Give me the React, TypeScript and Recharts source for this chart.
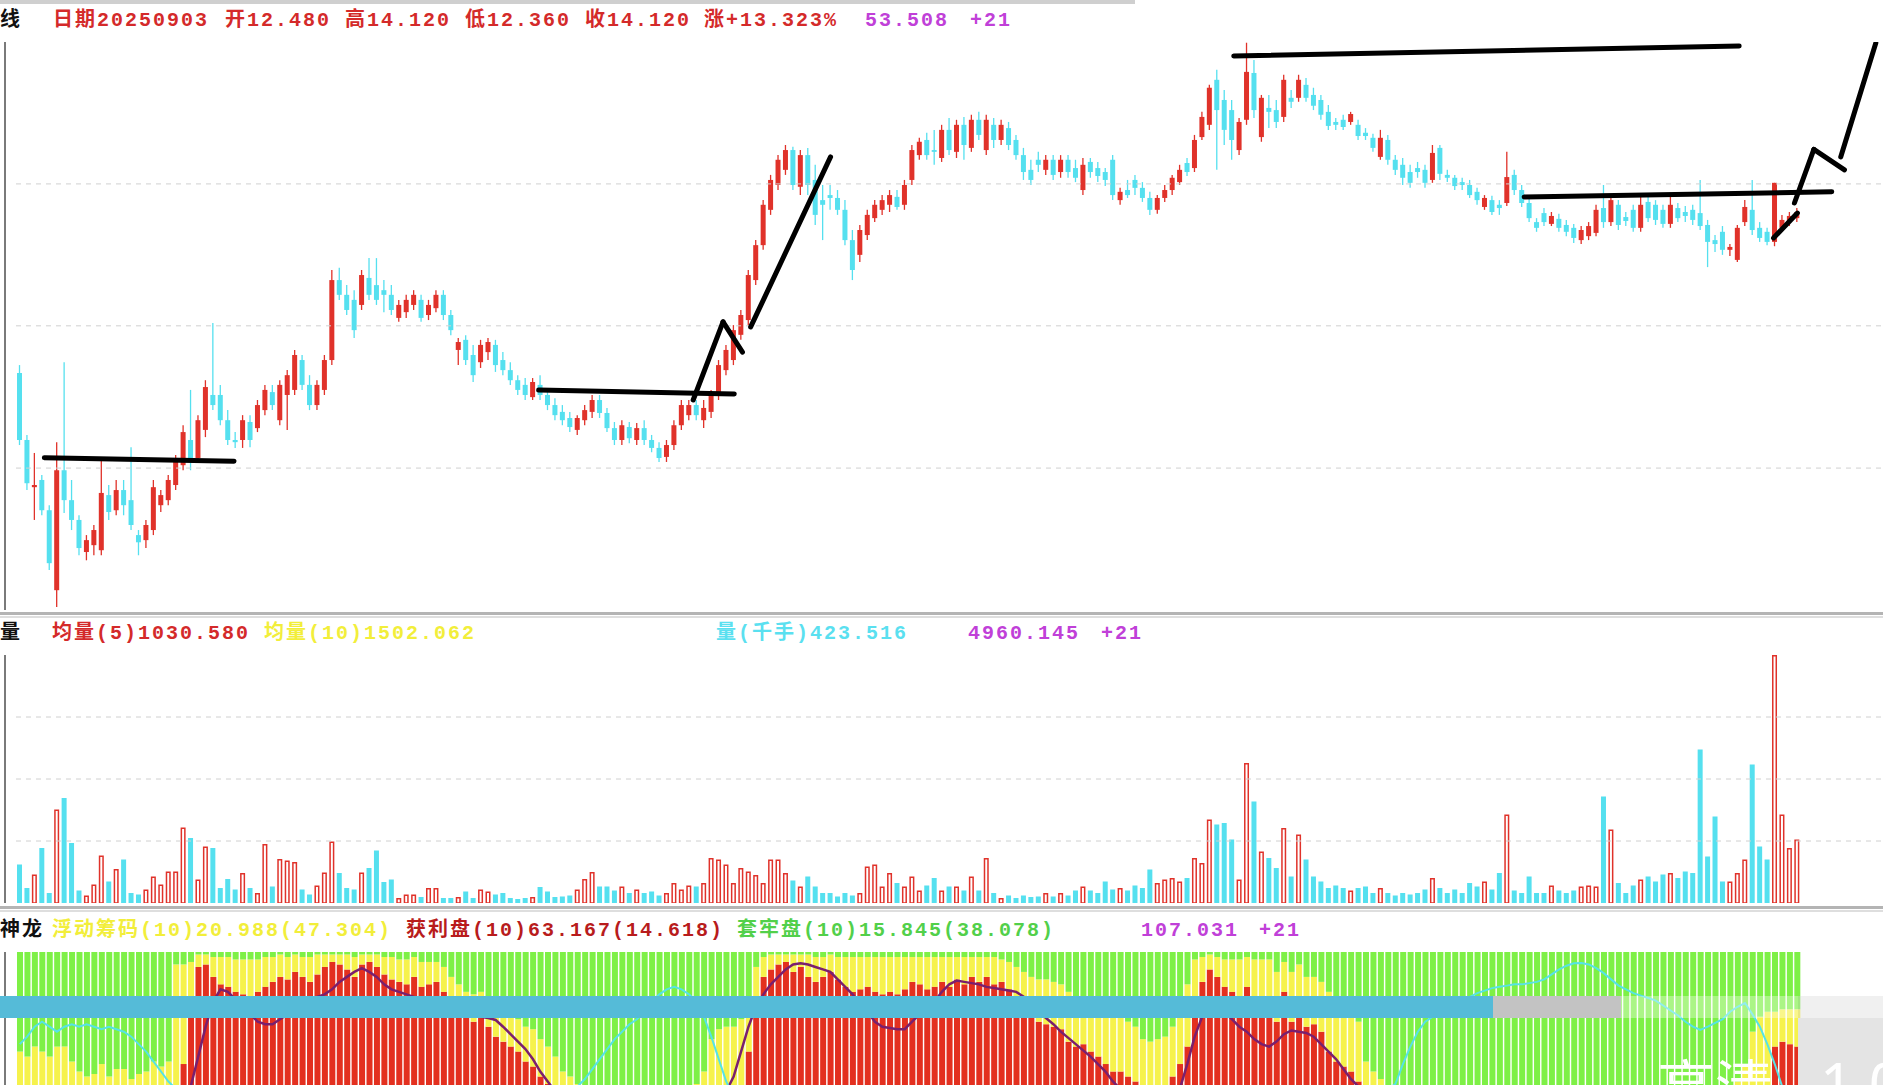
import React from 'react'
import { ComposedChart, Bar, Line, XAxis, YAxis, ReferenceLine } from 'recharts'

// 日K: [开, 高, 低, 收]
const ohlc: [number, number, number, number][] = [
	[8.84, 9.06, 6.84, 6.98], [6.98, 7.12, 5.59, 5.78], [5.67, 6.62, 4.76, 5.73], [5.87, 6.01, 4.89, 5.03], [5.03, 5.17, 3.37, 3.56],
	[2.81, 6.92, 2.34, 6.14], [6.14, 9.14, 4.95, 5.31], [5.31, 5.87, 4.48, 4.76], [4.76, 4.89, 3.78, 3.98], [3.87, 4.34, 3.64, 4.2],
	[4.06, 4.62, 3.78, 4.48], [3.92, 6.51, 3.78, 5.51], [5.45, 5.73, 4.76, 4.98], [5.03, 5.87, 4.89, 5.59], [5.59, 5.87, 4.89, 5.17],
	[5.31, 6.78, 4.48, 4.62], [4.34, 4.48, 3.78, 4.14], [4.2, 4.76, 3.98, 4.62], [4.48, 5.87, 4.34, 5.67], [5.17, 5.59, 4.98, 5.45],
	[5.31, 6.01, 5.17, 5.87], [5.73, 6.56, 5.59, 6.42], [6.28, 7.39, 6.14, 7.2], [6.98, 8.37, 6.14, 6.37], [6.48, 7.67, 6.37, 7.53],
	[7.26, 8.64, 7.06, 8.45], [8.23, 10.23, 7.81, 7.95], [8.23, 8.51, 7.39, 7.53], [7.53, 7.81, 6.84, 6.98], [6.98, 7.2, 6.76, 6.92],
	[6.98, 7.67, 6.76, 7.53], [7.48, 7.67, 6.78, 6.98], [7.31, 8.09, 7.2, 7.95], [7.81, 8.51, 7.67, 8.37], [8.31, 8.51, 7.81, 7.95],
	[7.53, 8.64, 7.39, 8.51], [8.23, 8.92, 7.26, 8.78], [8.37, 9.48, 8.23, 9.34], [9.2, 9.34, 8.37, 8.51], [8.51, 8.78, 7.81, 7.95],
	[7.95, 8.64, 7.81, 8.51], [8.37, 9.34, 8.23, 9.2], [9.2, 11.7, 9.06, 11.42], [11.42, 11.76, 10.87, 11.01], [11.01, 11.28, 10.45, 10.59],
	[10.87, 11.14, 9.81, 10.03], [10.73, 11.7, 10.59, 11.56], [11.48, 12.03, 10.87, 11.01], [11.28, 12.03, 10.73, 10.87], [11.14, 11.42, 10.53, 11.01],
	[11.01, 11.28, 10.45, 10.59], [10.37, 10.87, 10.26, 10.73], [10.53, 11.01, 10.37, 10.87], [10.73, 11.14, 10.59, 11.01], [10.87, 11.01, 10.26, 10.37],
	[10.45, 10.87, 10.31, 10.73], [10.64, 11.14, 10.53, 11.01], [11.01, 11.14, 10.31, 10.45], [10.45, 10.59, 9.89, 10.03], [9.48, 9.81, 9.06, 9.7],
	[9.76, 9.89, 9.06, 9.2], [9.34, 9.62, 8.59, 8.78], [9.14, 9.76, 8.98, 9.62], [9.42, 9.81, 9.2, 9.7], [9.62, 9.76, 8.87, 9.06],
	[9.2, 9.42, 8.78, 8.92], [8.92, 9.14, 8.51, 8.64], [8.64, 8.78, 8.23, 8.37], [8.51, 8.7, 8.09, 8.23], [8.17, 8.7, 8.09, 8.59],
	[8.51, 8.78, 8.09, 8.23], [8.23, 8.37, 7.81, 7.95], [7.95, 8.14, 7.53, 7.67], [7.76, 7.95, 7.39, 7.53], [7.59, 7.76, 7.2, 7.34],
	[7.26, 7.67, 7.12, 7.59], [7.53, 7.95, 7.39, 7.81], [7.76, 8.23, 7.59, 8.09], [8.09, 8.23, 7.59, 7.73], [7.73, 7.87, 7.2, 7.31],
	[7.31, 7.48, 6.84, 6.98], [6.98, 7.53, 6.84, 7.39], [7.34, 7.48, 6.89, 7.03], [6.98, 7.45, 6.84, 7.31], [7.31, 7.53, 6.84, 6.98],
	[6.98, 7.12, 6.64, 6.76], [6.76, 6.92, 6.37, 6.48], [6.51, 6.98, 6.37, 6.84], [6.84, 7.53, 6.7, 7.39], [7.39, 8.09, 7.26, 7.95],
	[7.67, 8.09, 7.53, 7.95], [7.95, 8.09, 7.53, 7.67], [7.53, 8.09, 7.31, 7.87], [7.76, 8.37, 7.59, 8.23], [8.23, 9.2, 8.09, 9.06],
	[8.92, 9.62, 8.78, 9.48], [9.2, 10.17, 9.06, 10.03], [9.9, 10.59, 9.76, 10.45], [10.31, 11.7, 10.17, 11.56], [11.42, 12.53, 11.28, 12.39],
	[12.39, 13.64, 12.26, 13.51], [13.37, 14.34, 13.23, 14.2], [14.06, 14.89, 13.92, 14.76], [14.48, 15.17, 14.34, 15.03], [15.03, 15.12, 13.92, 14.06],
	[14.01, 15.03, 13.78, 14.89], [14.89, 15.09, 13.78, 14.06], [14.2, 14.62, 12.95, 13.23], [13.64, 14.06, 12.53, 13.51], [13.78, 14.06, 13.37, 13.7],
	[13.7, 13.92, 13.23, 13.37], [13.37, 13.64, 12.39, 12.53], [12.53, 12.81, 11.42, 11.7], [12.12, 12.95, 11.92, 12.81], [12.67, 13.37, 12.53, 13.23],
	[13.14, 13.64, 13.03, 13.51], [13.37, 13.78, 13.23, 13.64], [13.51, 13.92, 13.31, 13.78], [13.73, 13.92, 13.37, 13.45], [13.51, 14.2, 13.37, 14.06],
	[14.2, 15.17, 14.06, 15.03], [14.89, 15.37, 14.76, 15.26], [15.31, 15.51, 14.76, 14.89], [15.03, 15.59, 14.62, 14.98], [14.81, 15.73, 14.7, 15.59],
	[15.59, 15.92, 14.89, 15.03], [14.98, 15.87, 14.81, 15.73], [15.73, 15.95, 14.76, 15.17], [15.09, 16.01, 14.98, 15.87], [15.87, 16.09, 15.31, 15.45],
	[15.03, 16.01, 14.89, 15.87], [15.73, 15.92, 15.09, 15.31], [15.31, 15.87, 15.17, 15.73], [15.64, 15.81, 15.03, 15.17], [15.31, 15.45, 14.76, 14.89],
	[14.89, 15.09, 14.2, 14.42], [14.48, 14.76, 14.06, 14.2], [14.76, 14.98, 14.42, 14.62], [14.48, 14.89, 14.34, 14.76], [14.76, 14.89, 14.2, 14.34],
	[14.42, 14.89, 14.26, 14.76], [14.76, 14.89, 14.26, 14.42], [14.53, 14.76, 14.14, 14.26], [13.92, 14.81, 13.78, 14.62], [14.7, 14.81, 14.26, 14.42],
	[14.53, 14.7, 14.14, 14.31], [14.42, 14.53, 14.03, 14.2], [14.76, 14.89, 13.64, 13.78], [13.64, 13.98, 13.51, 13.87], [13.92, 14.2, 13.7, 13.78],
	[14.2, 14.34, 13.78, 13.98], [13.98, 14.14, 13.59, 13.7], [13.7, 13.87, 13.23, 13.37], [13.37, 13.78, 13.26, 13.7], [13.7, 14.06, 13.59, 13.92],
	[13.92, 14.34, 13.78, 14.26], [14.14, 14.62, 14.06, 14.48], [14.67, 14.81, 14.31, 14.42], [14.53, 15.45, 14.42, 15.31], [15.39, 16.09, 15.31, 15.95],
	[15.73, 16.84, 15.59, 16.76], [16.98, 17.26, 14.48, 16.14], [16.42, 16.7, 15.17, 15.59], [16.14, 16.42, 14.76, 15.31], [15.03, 15.92, 14.89, 15.81],
	[15.87, 18.01, 15.73, 17.2], [17.17, 17.53, 15.92, 16.14], [15.39, 16.56, 15.26, 16.48], [16.2, 16.56, 15.64, 16.09], [16.14, 16.42, 15.64, 15.81],
	[15.95, 17.12, 15.81, 16.98], [16.48, 16.7, 16.2, 16.37], [16.48, 17.12, 16.37, 16.98], [16.84, 17.03, 16.37, 16.48], [16.56, 16.76, 16.14, 16.26],
	[16.42, 16.56, 15.87, 16.01], [16.09, 16.28, 15.59, 15.7], [15.81, 15.92, 15.59, 15.73], [15.87, 16.01, 15.59, 15.67], [15.81, 16.09, 15.73, 16.03],
	[15.73, 15.87, 15.31, 15.42], [15.51, 15.64, 15.31, 15.42], [15.37, 15.48, 14.98, 15.09], [14.84, 15.59, 14.76, 15.37], [15.31, 15.45, 14.62, 14.76],
	[14.76, 14.89, 14.34, 14.48], [14.62, 14.81, 14.06, 14.26], [14.42, 14.62, 13.98, 14.12], [14.53, 14.7, 14.26, 14.42], [14.48, 14.62, 13.98, 14.12],
	[14.2, 15.17, 14.12, 14.95], [15.09, 15.17, 14.2, 14.37], [14.34, 14.48, 14.14, 14.26], [14.26, 14.34, 13.92, 14.03], [14.14, 14.26, 13.92, 14.06],
	[14.06, 14.2, 13.7, 13.78], [13.87, 13.98, 13.51, 13.64], [13.45, 13.78, 13.37, 13.7], [13.64, 13.76, 13.23, 13.31], [13.51, 13.64, 13.23, 13.42],
	[13.56, 14.98, 13.48, 14.28], [14.34, 14.48, 13.78, 13.92], [13.92, 14.06, 13.45, 13.56], [13.56, 13.7, 13.03, 13.14], [13.03, 13.14, 12.76, 12.87],
	[13.28, 13.42, 12.92, 13.03], [12.98, 13.31, 12.92, 13.2], [13.12, 13.26, 12.76, 12.87], [12.95, 13.09, 12.64, 12.76], [12.87, 12.98, 12.45, 12.59],
	[12.53, 12.92, 12.42, 12.81], [12.64, 13.03, 12.53, 12.92], [12.73, 13.51, 12.64, 13.37], [13.42, 14.06, 12.87, 13.03], [13.03, 13.78, 12.92, 13.64],
	[13.51, 13.64, 12.81, 12.95], [13.17, 13.31, 12.92, 13.06], [13.37, 13.51, 12.76, 12.87], [12.87, 13.78, 12.76, 13.51], [13.59, 13.78, 13.03, 13.14],
	[13.51, 13.64, 12.95, 13.09], [13.37, 13.51, 12.87, 12.98], [12.98, 13.78, 12.87, 13.51], [13.42, 13.56, 13.03, 13.14], [13.31, 13.48, 13.03, 13.2],
	[13.37, 13.51, 12.95, 13.09], [13.28, 14.2, 12.81, 12.92], [12.95, 13.09, 11.78, 12.48], [12.53, 12.67, 12.2, 12.42], [12.76, 12.92, 12.12, 12.26],
	[12.26, 12.42, 12.09, 12.34], [11.98, 12.95, 11.92, 12.87], [13.03, 13.64, 12.92, 13.45], [13.37, 14.2, 12.67, 12.81], [12.87, 13.03, 12.48, 12.59],
	[12.76, 12.87, 12.39, 12.48], [12.48, 14.12, 12.36, 14.12], [12.87, 13.23, 12.76, 13.09], [13.03, 13.31, 12.92, 13.2], [13.14, 13.42, 13.03, 13.31],
]

// 成交量(千手)
const volume: number[] = [
	770, 300, 570, 1100, 200, 1870, 2100, 1200, 250, 150,
	370, 950, 430, 680, 870, 200, 170, 270, 530, 370,
	630, 630, 1510, 1300, 470, 1130, 1100, 300, 480, 270,
	600, 300, 200, 1180, 330, 880, 850, 820, 270, 170,
	350, 610, 1230, 600, 300, 270, 610, 700, 1050, 420,
	470, 100, 170, 170, 120, 300, 300, 100, 100, 120,
	230, 100, 270, 230, 170, 200, 100, 80, 100, 120,
	320, 230, 120, 130, 150, 270, 480, 620, 330, 330,
	250, 330, 200, 270, 200, 230, 150, 200, 400, 270,
	350, 330, 400, 900, 870, 770, 400, 700, 630, 560,
	400, 870, 870, 600, 450, 330, 530, 330, 200, 200,
	130, 200, 150, 200, 730, 770, 330, 600, 400, 330,
	530, 250, 350, 500, 250, 330, 330, 250, 530, 250,
	900, 200, 100, 150, 100, 150, 120, 130, 200, 130,
	200, 150, 250, 330, 250, 200, 430, 270, 300, 250,
	350, 300, 670, 400, 470, 500, 430, 500, 900, 800,
	1670, 1570, 1600, 1270, 470, 2800, 2030, 1030, 900, 700,
	1500, 530, 1370, 870, 530, 430, 300, 350, 300, 250,
	300, 330, 200, 300, 200, 150, 200, 170, 200, 270,
	500, 300, 200, 270, 200, 400, 330, 430, 270, 600,
	1770, 250, 200, 530, 200, 200, 350, 250, 200, 250,
	330, 350, 330, 2130, 1470, 400, 200, 350, 470, 530,
	430, 570, 600, 500, 630, 600, 3070, 930, 1730, 430,
	430, 600, 870, 2770, 1130, 870, 4960, 1770, 1100, 1270,
]

// 神龙筹码: [获利盘, 浮动筹码, 套牢盘]
const chips: [number, number, number][] = [
	[36, 24, 40], [38, 20, 42], [37, 25, 38], [38, 22, 40], [40, 18, 42], [42, 20, 38], [40, 22, 38], [40, 16, 44], [40, 12, 48], [41, 9, 50],
	[40, 11, 49], [42, 13, 45], [41, 9, 50], [42, 11, 47], [41, 12, 47], [40, 9, 51], [40, 11, 49], [42, 10, 48], [43, 13, 44], [43, 11, 46],
	[44, 12, 44], [40, 55, 5], [55, 40, 5], [75, 21, 4], [94, 5, 1], [95, 4, 1], [90, 8, 2], [87, 11, 2], [86, 12, 2], [84, 13, 3],
	[83, 14, 3], [82, 15, 3], [84, 13, 3], [86, 12, 2], [88, 10, 2], [90, 9, 1], [89, 9, 2], [92, 7, 1], [90, 8, 2], [88, 10, 2],
	[91, 8, 1], [94, 5, 1], [96, 3, 1], [95, 4, 1], [93, 6, 1], [90, 8, 2], [95, 4, 1], [96, 3, 1], [94, 5, 1], [91, 7, 2],
	[89, 9, 2], [88, 9, 3], [87, 10, 3], [90, 8, 2], [86, 10, 4], [87, 9, 4], [88, 8, 4], [84, 10, 6], [80, 10, 10], [76, 11, 13],
	[74, 10, 16], [72, 11, 17], [74, 10, 16], [70, 12, 18], [66, 12, 22], [64, 13, 23], [62, 12, 26], [60, 13, 27], [56, 14, 30], [54, 15, 31],
	[50, 15, 35], [47, 15, 38], [44, 14, 42], [40, 12, 48], [38, 12, 50], [36, 11, 53], [35, 10, 55], [34, 10, 56], [33, 10, 57], [32, 9, 59],
	[32, 9, 59], [31, 9, 60], [31, 9, 60], [30, 9, 61], [30, 9, 61], [30, 10, 60], [30, 10, 60], [30, 10, 60], [31, 10, 59], [31, 11, 58],
	[32, 12, 56], [33, 14, 53], [34, 18, 48], [35, 30, 35], [36, 33, 31], [38, 32, 30], [40, 30, 30], [45, 28, 27], [60, 22, 18], [80, 14, 6],
	[90, 8, 2], [93, 6, 1], [95, 4, 1], [96, 3, 1], [92, 7, 1], [94, 5, 1], [90, 9, 1], [88, 10, 2], [90, 8, 2], [92, 7, 1],
	[89, 9, 2], [86, 12, 2], [84, 14, 2], [85, 13, 2], [86, 12, 2], [84, 14, 2], [83, 15, 2], [84, 14, 2], [83, 15, 2], [85, 13, 2],
	[88, 10, 2], [87, 11, 2], [85, 13, 2], [86, 12, 2], [88, 10, 2], [86, 12, 2], [89, 9, 2], [87, 11, 2], [90, 8, 2], [88, 10, 2],
	[90, 8, 2], [87, 11, 2], [88, 9, 3], [85, 11, 4], [82, 12, 6], [78, 14, 8], [74, 16, 10], [72, 17, 11], [71, 18, 11], [70, 18, 12],
	[69, 18, 13], [64, 20, 16], [62, 20, 18], [63, 19, 18], [60, 20, 20], [58, 21, 21], [55, 22, 23], [52, 22, 26], [52, 22, 26], [50, 22, 28],
	[48, 22, 30], [45, 20, 35], [44, 20, 36], [45, 20, 35], [46, 20, 34], [50, 20, 30], [55, 22, 23], [62, 25, 13], [80, 17, 3], [88, 10, 2],
	[93, 6, 1], [90, 8, 2], [86, 11, 3], [84, 13, 3], [82, 15, 3], [86, 12, 2], [80, 17, 3], [82, 15, 3], [80, 17, 3], [72, 20, 8],
	[84, 12, 4], [72, 20, 8], [80, 15, 5], [70, 20, 10], [71, 19, 10], [68, 20, 12], [60, 24, 16], [56, 25, 19], [54, 25, 21], [52, 25, 23],
	[48, 24, 28], [42, 14, 44], [40, 12, 48], [38, 11, 51], [36, 10, 54], [34, 10, 56], [35, 11, 54], [34, 9, 57], [33, 10, 57], [34, 10, 56],
	[35, 11, 54], [34, 10, 56], [33, 10, 57], [34, 9, 57], [35, 10, 55], [34, 10, 56], [33, 11, 56], [34, 10, 56], [35, 10, 55], [34, 10, 56],
	[33, 10, 57], [34, 10, 56], [35, 11, 54], [34, 10, 56], [33, 10, 57], [34, 9, 57], [35, 10, 55], [34, 10, 56], [33, 10, 57], [34, 10, 56],
	[35, 11, 54], [34, 10, 56], [33, 10, 57], [34, 10, 56], [35, 10, 55], [34, 9, 57], [33, 10, 57], [34, 10, 56], [35, 11, 54], [34, 10, 56],
	[33, 10, 57], [34, 10, 56], [35, 10, 55], [34, 10, 56], [33, 10, 57], [34, 11, 55], [35, 10, 55], [34, 10, 56], [33, 10, 57], [34, 10, 56],
	[35, 11, 54], [36, 12, 52], [38, 16, 46], [40, 28, 32], [44, 30, 26], [46, 30, 24], [62, 14, 24], [64, 13, 23], [63, 14, 23], [62, 15, 23],
]

// 紫线
const purpleLine: number[] = [
	38, 38, 37, 37, 36, 36, 36, 37, 37, 38,
	38, 38, 37, 37, 38, 38, 39, 39, 40, 40,
	41, 42, 44, 46, 58, 70, 80, 85, 84, 81,
	78, 75, 72, 71, 71, 73, 75, 77, 79, 80,
	82, 83, 85, 88, 90, 92, 93.5, 92, 90, 87,
	85, 84, 83, 82, 81, 80, 79, 78, 77, 76.5,
	76, 75, 74, 73.5, 72.7, 70, 67, 64, 61, 57,
	52, 48, 44, 41, 40, 39, 38, 38, 37, 37,
	36, 36, 36, 36, 36, 36, 37, 37, 37, 38,
	38, 39, 40, 41, 42, 44, 50, 60, 70, 78,
	83, 87, 90, 93, 95, 95.5, 95, 94, 93, 92,
	89, 86, 83, 79, 76, 72, 70, 69.5, 69, 69,
	72, 75, 77, 80, 84, 87, 88.5, 88, 87.5, 87,
	86, 85.5, 85, 84.5, 84, 82, 79, 76, 73.5, 71,
	68, 65.5, 63, 60.5, 58, 55, 52, 48, 45, 43,
	42, 41, 41, 41, 42, 43, 45, 55, 66, 74,
	78, 78, 76, 73, 70, 68, 65, 63, 62, 64,
	67, 68.5, 68, 67.5, 66, 63, 60, 57, 53, 49,
	46, 43, 41, 40, 39, 38, 38, 37, 37, 37,
	37, 37, 36, 36, 36, 36, 36, 36, 36, 36,
	36, 36, 36, 36, 36, 36, 36, 37, 37, 37,
	37, 37, 38, 38, 38, 38, 38, 38, 38, 38,
	38, 38, 38, 38, 38, 38, 38, 39, 39, 39,
	40, 40, 41, 42, 43, 44, 44, 44, 44, 44,
]

// 青线
const cyanLine: number[] = [
	63, 66, 70, 72, 70, 68, 70, 71, 70, 71,
	70, 69, 70, 69, 68, 66, 63, 60, 56, 52,
	48, 45, 40, 36, 34, 33, 32, 32, 31, 31,
	30, 30, 30, 30, 30, 30, 30, 30, 30, 30,
	30, 30, 30, 30, 30, 30, 30, 30, 30, 30,
	30, 30, 30, 30, 30, 30, 30, 31, 31, 32,
	32, 33, 33, 34, 35, 36, 37, 38, 39, 40,
	41, 42, 43, 44, 45, 46, 49, 53, 57, 61,
	65, 68, 71, 73, 76, 80, 83, 85, 86, 85,
	83, 80, 74, 66, 57, 48, 42, 38, 35, 33,
	32, 31, 30, 30, 30, 30, 30, 30, 30, 30,
	30, 30, 30, 30, 30, 30, 30, 30, 30, 30,
	30, 30, 30, 30, 30, 30, 30, 30, 30, 30,
	30, 30, 30, 30, 30, 30, 30, 30, 30, 30,
	30, 30, 30, 30, 30, 31, 31, 32, 32, 33,
	33, 34, 34, 35, 35, 36, 36, 37, 37, 38,
	38, 38, 39, 39, 39, 40, 40, 40, 40, 41,
	41, 41, 41, 42, 42, 42, 42, 43, 43, 43,
	43, 44, 44, 45, 45, 47, 55, 62, 68, 72,
	74, 76, 78, 79, 80.5, 82, 83.5, 84.5, 85.5, 86,
	86.5, 87, 87, 87.5, 88, 89, 91, 93, 94.5, 95.5,
	95.6, 95, 93.5, 91.5, 89, 86.5, 85, 83.5, 82.5, 81.5,
	80.5, 78.5, 76.5, 74.5, 72, 70, 68.7, 70, 71.5, 73,
	76, 78, 79.5, 75, 70, 63, 55, 46, 40, 36,
]

// 手绘线 [[序号, 价格], [序号, 价格]]
const marks: [number, number][][] = [
	[[3.8, 6.49], [29.2, 6.39]],
	[[70, 8.37], [96.2, 8.26]],
	[[90.7, 8.09], [94.7, 10.26]],
	[[94.7, 10.26], [97.3, 9.42]],
	[[98.4, 10.12], [109.1, 14.84]],
	[[163.1, 17.64], [230.8, 17.92]],
	[[202, 13.73], [243.2, 13.87]],
	[[235.4, 12.59], [238.6, 13.28]],
	[[238.2, 13.56], [240.8, 15.05]],
	[[240.8, 15.05], [244.9, 14.48]],
	[[244.4, 14.84], [249.1, 18.0]],
]

const priceGrid = [6.2, 10.15, 14.09]
const volGrid = [1240, 2480, 3720]

const SLOTS = 252
const RED = '#e0322a'
const CYAN = '#55e0ef'

const rows = Array.from({ length: SLOTS }, (_, i) => {
	const k = ohlc[i]
	if (!k) return { i }
	const [o, h, l, c] = k
	const [pr, fl, tr] = chips[i]
	return { i, o, h, l, c, up: c >= o, range: [l, h], vol: volume[i], pr, fl, tr, pl: purpleLine[i], cl: cyanLine[i] }
})

const Candle = (props: any) => {
	const { x, y, width, height, payload } = props
	if (!payload || payload.o == null) return null
	const { o, h, l, c, up } = payload
	const span = h - l || 1
	const py = (v: number) => y + ((h - v) / span) * height
	const cx = x + width / 2
	const top = py(Math.max(o, c))
	const bot = py(Math.min(o, c))
	const col = up ? RED : CYAN
	return (
		<g>
			<line x1={cx} x2={cx} y1={y} y2={y + height} stroke={col} strokeWidth={1.3} />
			<rect x={x} y={top} width={width} height={Math.max(bot - top, 1.3)} fill={col} />
		</g>
	)
}

const VolBar = (props: any) => {
	const { x, y, width, height, payload } = props
	if (!payload || !payload.vol) return null
	if (payload.up)
		return <rect x={x + 0.75} y={y + 0.75} width={width - 1.5} height={Math.max(height - 0.75, 0)} fill='#fff' stroke={RED} strokeWidth={1.5} />
	return <rect x={x} y={y} width={width} height={height} fill={CYAN} />
}

const txt: React.CSSProperties = {
	position: 'absolute',
	fontFamily: '"Liberation Mono", "Noto Sans CJK SC", monospace',
	fontSize: 20,
	fontWeight: 'bold',
	lineHeight: '20px',
	letterSpacing: 2,
	whiteSpace: 'pre',
}

const hline = (top: number, h: number, color: string, left = 0, width = 1883): React.CSSProperties => ({
	position: 'absolute', left, top, width, height: h, background: color,
})

const App = () => {
	const W = 1890
	const m = { top: 0, right: 0, bottom: 0, left: 16 }
	const RD = '#d42a2a'
	const MG = '#c040d8'
	return (
		<div style={{ position: 'fixed', left: 0, top: 0, width: 1883, height: 1085, overflow: 'hidden', background: '#fff' }}>
			<div style={hline(0, 4, '#cfcfcf', 0, 1135)} />

			{/* 主图 */}
			<div style={{ position: 'absolute', left: 0, top: 42 }}>
				<ComposedChart width={W} height={568} data={rows} margin={m}>
					<XAxis dataKey='i' hide />
					<XAxis xAxisId='n' type='number' domain={[-0.5, SLOTS - 0.5]} allowDataOverflow hide />
					<YAxis domain={[2.26, 18.03]} allowDataOverflow hide />
					{priceGrid.map(v => (
						<ReferenceLine key={v} y={v} stroke='#d0d0d0' strokeDasharray='5 5' />
					))}
					<Bar dataKey='range' barSize={5} shape={Candle} isAnimationActive={false} />
					{marks.map((s, k) => (
						<ReferenceLine
							key={k}
							xAxisId='n'
							segment={[{ x: s[0][0], y: s[0][1] }, { x: s[1][0], y: s[1][1] }]}
							stroke='#000'
							strokeWidth={5}
							strokeLinecap='round'
							ifOverflow='visible'
						/>
					))}
				</ComposedChart>
			</div>

			{/* 量 */}
			<div style={{ position: 'absolute', left: 0, top: 655 }}>
				<ComposedChart width={W} height={248} data={rows} margin={m}>
					<XAxis dataKey='i' hide />
					<YAxis domain={[0, 4960]} allowDataOverflow hide />
					{volGrid.map(v => (
						<ReferenceLine key={v} y={v} stroke='#d0d0d0' strokeDasharray='5 5' />
					))}
					<Bar dataKey='vol' barSize={5} shape={VolBar} isAnimationActive={false} />
				</ComposedChart>
			</div>

			{/* 神龙筹码 */}
			<div style={{ position: 'absolute', left: 0, top: 952 }}>
				<ComposedChart width={W} height={249} data={rows} margin={m}>
					<XAxis dataKey='i' hide />
					<YAxis domain={[0, 100]} allowDataOverflow hide />
					<Bar dataKey='pr' stackId='s' fill='#e3301f' barSize={6} isAnimationActive={false} />
					<Bar dataKey='fl' stackId='s' fill='#f6f24c' barSize={6} isAnimationActive={false} />
					<Bar dataKey='tr' stackId='s' fill='#7ef046' barSize={6} isAnimationActive={false} />
					<Line dataKey='pl' stroke='#7a1f6e' strokeWidth={2.5} dot={false} isAnimationActive={false} />
					<Line dataKey='cl' stroke='#55e3e6' strokeWidth={2} dot={false} isAnimationActive={false} />
				</ComposedChart>
			</div>

			{/* 坐标框 */}
			<div style={{ position: 'absolute', left: 4, top: 42, width: 2, height: 568, background: '#7a7a7a' }} />
			<div style={{ position: 'absolute', left: 4, top: 655, width: 2, height: 248, background: '#7a7a7a' }} />
			<div style={{ position: 'absolute', left: 4, top: 952, width: 2, height: 140, background: '#7a7a7a' }} />
			<div style={hline(612, 3, '#b4b4b4')} />
			<div style={hline(616, 2, '#dedede')} />
			<div style={hline(906, 3, '#b4b4b4')} />
			<div style={hline(910, 2, '#dedede')} />

			{/* 标题行 */}
			<span style={{ ...txt, left: 0, top: 11, color: '#111' }}>线</span>
			<span style={{ ...txt, left: 53, top: 11, color: RD }}>日期20250903</span>
			<span style={{ ...txt, left: 225, top: 11, color: RD }}>开12.480</span>
			<span style={{ ...txt, left: 345, top: 11, color: RD }}>高14.120</span>
			<span style={{ ...txt, left: 465, top: 11, color: RD }}>低12.360</span>
			<span style={{ ...txt, left: 585, top: 11, color: RD }}>收14.120</span>
			<span style={{ ...txt, left: 704, top: 11, color: RD }}>涨+13.323%</span>
			<span style={{ ...txt, left: 865, top: 11, color: MG }}>53.508</span>
			<span style={{ ...txt, left: 970, top: 11, color: MG }}>+21</span>

			<span style={{ ...txt, left: 0, top: 624, color: '#111' }}>量</span>
			<span style={{ ...txt, left: 52, top: 624, color: RD }}>均量(5)1030.580</span>
			<span style={{ ...txt, left: 264, top: 624, color: '#f2ee3a' }}>均量(10)1502.062</span>
			<span style={{ ...txt, left: 716, top: 624, color: '#5ae0f0' }}>量(千手)423.516</span>
			<span style={{ ...txt, left: 968, top: 624, color: MG }}>4960.145</span>
			<span style={{ ...txt, left: 1101, top: 624, color: MG }}>+21</span>

			<span style={{ ...txt, left: 0, top: 921, color: '#111' }}>神龙</span>
			<span style={{ ...txt, left: 52, top: 921, color: '#f2ee3a' }}>浮动筹码(10)20.988(47.304)</span>
			<span style={{ ...txt, left: 406, top: 921, color: '#b81c1c' }}>获利盘(10)63.167(14.618)</span>
			<span style={{ ...txt, left: 737, top: 921, color: '#52d04a' }}>套牢盘(10)15.845(38.078)</span>
			<span style={{ ...txt, left: 1141, top: 921, color: MG }}>107.031</span>
			<span style={{ ...txt, left: 1259, top: 921, color: MG }}>+21</span>

			{/* 播放器进度条 */}
			<div style={{ position: 'absolute', left: 0, top: 996, width: 1493, height: 22, background: '#55bbd8' }} />
			<div style={{ position: 'absolute', left: 1493, top: 996, width: 128, height: 22, background: '#c3c3c3' }} />
			<div style={{ position: 'absolute', left: 1621, top: 996, width: 262, height: 22, background: 'rgba(255,255,255,0.35)' }} />
			<div style={{ position: 'absolute', left: 1798, top: 996, width: 85, height: 22, background: 'rgba(0,0,0,0.06)' }} />
			<div style={{ position: 'absolute', left: 1798, top: 1018, width: 85, height: 67, background: '#e4e4e4' }} />
			<span style={{ position: 'absolute', left: 1657, top: 1048, fontFamily: '"Noto Sans CJK SC", sans-serif', fontSize: 58, lineHeight: '70px', color: '#fff' }}>高清</span>
			<span style={{ position: 'absolute', left: 1820, top: 1048, fontFamily: '"Noto Sans", sans-serif', fontSize: 58, lineHeight: '70px', color: '#fff' }}>1.0</span>
		</div>
	)
}

export default App
